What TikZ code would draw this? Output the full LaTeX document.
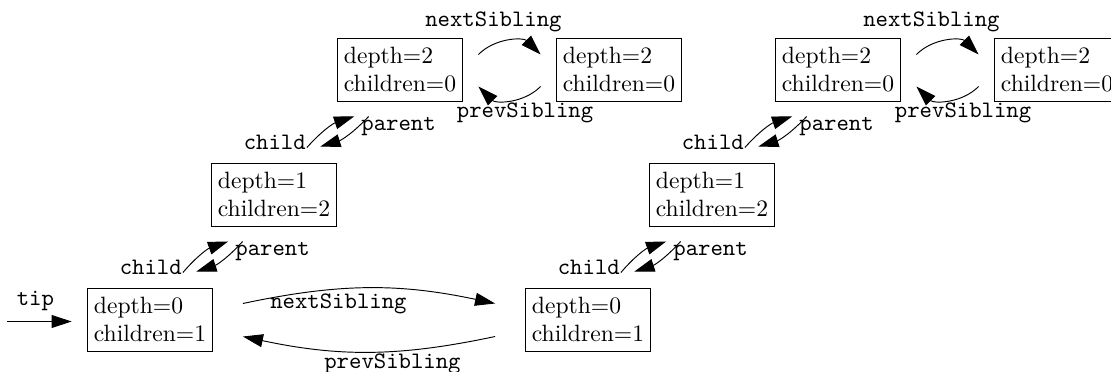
\documentclass[tikz,border=0pt]{standalone}
\usepackage{tikz}
\usetikzlibrary{arrows.meta}
\tikzset{
  state/.style={draw, align=left, inner sep=1pt, minimum width=52.9pt,
    minimum height=26.7pt, execute at begin node={\rule{0pt}{11.3pt}}},
  link/.style={-{Triangle[length=8.5pt,width=5.5pt]}},
  lbl/.style={font=\ttfamily},
}
\begin{document}
\begin{tikzpicture}[x=0.4237pt, y=-0.4237pt]
  \useasboundingbox (0,0) rectangle (1111,372);
  % the same little tree twice, the second one 438 further right
  \foreach \dx/\side in {0/l,438/r}{
    \node[state] (\side0) at (150+\dx,319.5) {depth=0\\children=1};
    \node[state] (\side1) at (274+\dx,194.5) {depth=1\\children=2};
    \node[state] (\side2) at (400+\dx,69.5) {depth=2\\children=0};
    \node[state] (\side3) at (619+\dx,69.5) {depth=2\\children=0};
    % child / parent pairs
    \foreach \a/\b in {0/1,1/2}{
      \draw[link] ([shift={(-30,-15)}]\side\a.north east) to[bend left=15]
        node[pos=0,lbl,xshift=-13.6pt,yshift=2pt] (\side c\a) {child}
        ([shift={(17,15)}]\side\b.south west);
      \draw[link] ([shift={(31.5,15)}]\side\b.south west) to[bend left=15]
        node[pos=0,lbl,xshift=12.7pt,yshift=-4.2pt] (\side p\a) {parent}
        ([shift={(-16.5,-16)}]\side\a.north east);
    }
    % siblings at depth 2
    \draw[link] ([shift={(15.5,-15)}]\side2.east) to[bend left=45]
      node[midway,lbl,xshift=-6.8pt,yshift=8.3pt] (\side n2) {nextSibling}
      ([shift={(-15.5,-15)}]\side3.west);
    \draw[link] ([shift={(-15.5,17)}]\side3.west) to[bend left=45]
      node[midway,lbl,xshift=6.6pt,yshift=-5.9pt] (\side v2) {prevSibling}
      ([shift={(15.5,17)}]\side2.east);
  }
  % tip and the two roots
  \draw[link] ([shift={(-80,2)}]l0.west) -- node[midway,lbl,xshift=-1.7pt,yshift=8.5pt] (tip) {tip}
    ([shift={(-15.5,2)}]l0.west);
  \draw[link] ([shift={(30,-16)}]l0.east) to[bend left=12]
    node[pos=0.37,lbl,yshift=-6.2pt] (n0) {nextSibling} ([shift={(-30,-16)}]r0.west);
  \draw[link] ([shift={(-30,17)}]r0.west) to[bend left=12]
    node[pos=0.4,lbl,yshift=-5.5pt] (v0) {prevSibling} ([shift={(30,17)}]l0.east);
\end{tikzpicture}
\end{document}
